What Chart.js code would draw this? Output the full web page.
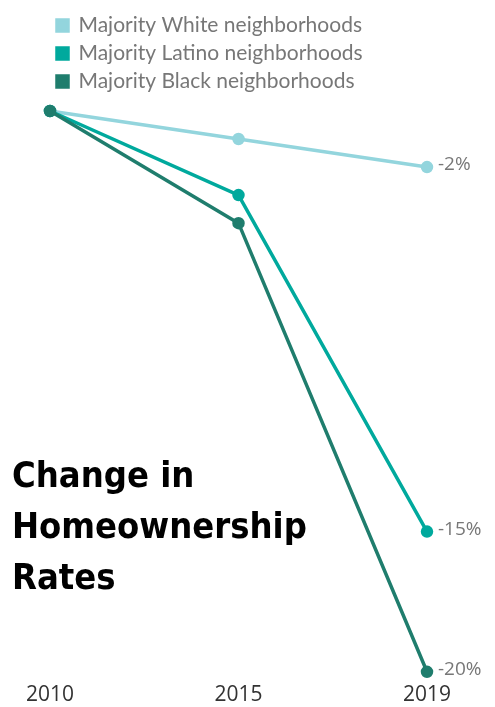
<!DOCTYPE html>
<html>
<head>
<meta charset="utf-8">
<script src="https://cdn.jsdelivr.net/npm/chart.js@4"></script>
<style>
	html, body { margin: 0; padding: 0; background: #fff; }
	#wrap { position: relative; width: 495px; height: 707px; }
	#title {
		position: absolute; left: 12px; top: 449px;
		font-family: "Liberation Sans Narrow", "DejaVu Sans Condensed", "DejaVu Sans", sans-serif;
		font-stretch: condensed;
		font-weight: bold; font-size: 36px; line-height: 51px; color: #000;
	}
</style>
</head>
<body>
<div id="wrap">
	<canvas id="chart" width="495" height="707"></canvas>
	<div id="title">Change in<br>Homeownership<br>Rates</div>
</div>
<script>
// data (percent change vs 2010)
const years = ['2010', '2015', '2019'];
const seriesNames = ['Majority White neighborhoods', 'Majority Latino neighborhoods', 'Majority Black neighborhoods'];
const white = [0, -1, -2];
const latino = [0, -3, -15];
const black = [0, -4, -20];
const colors = ['#93d5dd', '#00a99d', '#1f7d6d'];

const endLabels = {
	id: 'endLabels',
	afterDatasetsDraw(chart) {
		const ctx = chart.ctx;
		ctx.save();
		ctx.font = '19px "Open Sans", sans-serif';
		ctx.fillStyle = '#777';
		ctx.textBaseline = 'middle';
		chart.data.datasets.forEach((ds, i) => {
			const meta = chart.getDatasetMeta(i);
			const last = meta.data[meta.data.length - 1];
			ctx.fillText(ds.data[ds.data.length - 1] + '%', last.x + 11, last.y - 2);
		});
		ctx.restore();
	}
};

// push the plot down a bit below the legend
const legendGap = {
	id: 'legendGap',
	beforeInit(chart) {
		const fit = chart.legend.fit;
		chart.legend.fit = function () {
			fit.bind(chart.legend)();
			this.height += 9;
		};
	}
};

const ctx = document.getElementById('chart').getContext('2d');
new Chart(ctx, {
	type: 'line',
	data: {
		labels: years,
		datasets: [white, latino, black].map((d, i) => ({
			label: seriesNames[i],
			data: d,
			order: 2 - i, // darker lines on top
			borderColor: colors[i],
			backgroundColor: colors[i],
			borderWidth: 3.5,
			pointRadius: 4.5,
			pointHoverRadius: 4.5,
			tension: 0,
			clip: false
		}))
	},
	options: {
		responsive: false,
		animation: false,
		layout: { padding: { left: 50, right: 68, top: 8, bottom: -12 } },
		plugins: {
			tooltip: { enabled: false },
			legend: {
				position: 'top',
				align: 'start',
				labels: {
					boxWidth: 11,
					boxHeight: 11,
					padding: 7,
					color: '#777',
					font: { family: 'Lato, "Noto Sans", sans-serif', size: 21 },
					sort: (a, b) => a.datasetIndex - b.datasetIndex
				}
			}
		},
		scales: {
			x: {
				grid: { display: false, drawTicks: false },
				border: { display: false },
				ticks: {
					color: '#333',
					padding: 11,
					maxRotation: 0,
					font: { family: '"Open Sans", sans-serif', size: 21 }
				}
			},
			y: {
				display: false,
				min: -20,
				max: 0
			}
		}
	},
	plugins: [endLabels, legendGap]
});
</script>
</body>
</html>
